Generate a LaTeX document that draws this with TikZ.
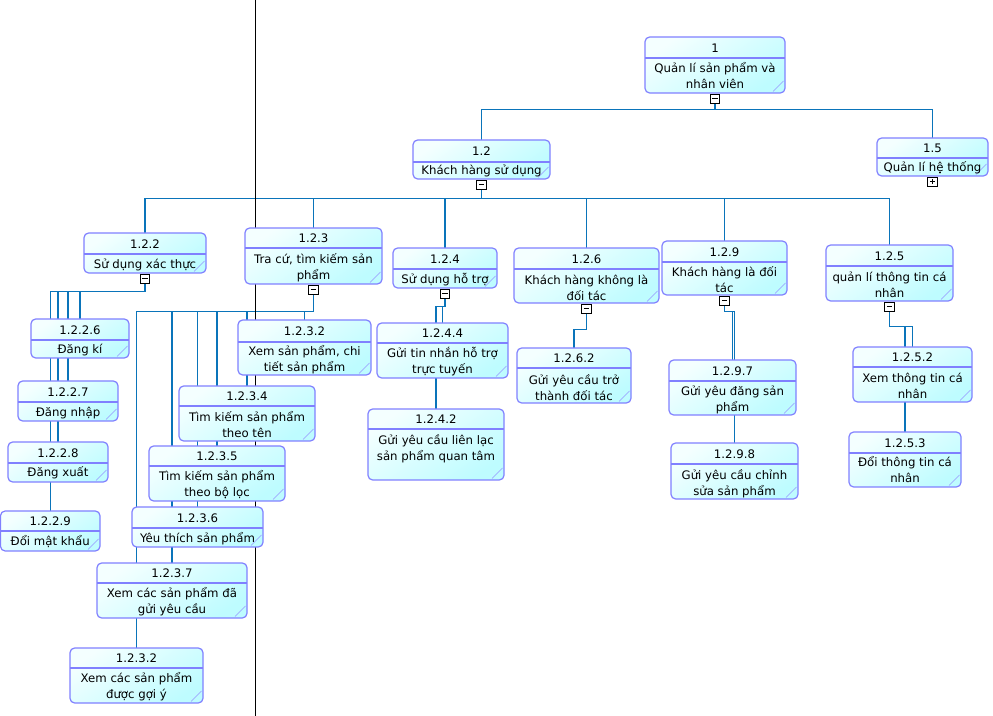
\documentclass[tikz,border=0pt]{standalone}
\usepackage{fontspec}
\setmainfont{DejaVu Sans}
\definecolor{boxborder}{RGB}{128,128,255}
\definecolor{boxtop}{RGB}{244,255,255}
\definecolor{boxbot}{RGB}{190,252,255}
\definecolor{connblue}{RGB}{10,116,186}
\definecolor{foldc}{RGB}{150,150,255}
\pgfdeclarelayer{bg}
\pgfdeclarelayer{mid}
\pgfsetlayers{bg,mid,main}
\tikzset{
  pnode/.style={draw=boxborder, line width=0.9pt, rounded corners=3.5pt,
    top color=boxtop, bottom color=boxbot, shading angle=35,
    inner sep=0pt, outer sep=0pt},
  psep/.style={draw=boxborder, line width=0.9pt},
  pfold/.style={draw=foldc, line width=0.5pt},
  ptext/.style={inner sep=0pt, align=center, text=black,
    font=\fontsize{8.8}{12}\selectfont},
  conn/.style={draw=connblue, line width=0.9pt},
  pageline/.style={draw=black, line width=0.8pt},
  togbase/.style={draw=black, fill=white, line width=0.7pt, minimum size=7pt,
    inner sep=0pt, outer sep=0pt, anchor=north},
  togminus/.style={togbase, path picture={\draw[line width=0.7pt]
    ([xshift=1.6pt]path picture bounding box.west) --
    ([xshift=-1.6pt]path picture bounding box.east);}},
  togplus/.style={togbase, path picture={\draw[line width=0.7pt]
    ([xshift=1.6pt]path picture bounding box.west) --
    ([xshift=-1.6pt]path picture bounding box.east)
    ([yshift=-1.6pt]path picture bounding box.north) --
    ([yshift=1.6pt]path picture bounding box.south);}},
}
% #1 name, #2 x1, #3 y1, #4 x2, #5 y2, #6 y of header line, #7 y of text, #8 number, #9 text
\newcommand\procbox[9]{%
  \node[pnode, minimum width={(#4-#2)*0.75pt}, minimum height={(#5-#3)*0.75pt}]
    (#1) at ({(#2+#4)/2},{(#3+#5)/2}) {};
  \draw[psep] (#2,#6) -- (#4,#6);
  \draw[pfold] (#4-12,#5-1.5) -- (#4-1.5,#5-12);
  \node[ptext] at ({(#2+#4)/2},{(#3+#6)/2+0.5}) {#8};
  \node[ptext] at ({(#2+#4)/2},#7) {#9};
}
\begin{document}
\begin{tikzpicture}[x=0.75pt,y=-0.75pt]
\useasboundingbox (0,0) rectangle (993,716);

% level 0 / 1
\procbox{n1}{645}{37}{785}{93}{58}{76}{1}{Quản lí sản phẩm và\\nhân viên}
\procbox{n12}{413}{140}{550}{179}{162}{171}{1.2}{Khách hàng sử dụng}
\procbox{n15}{877}{138}{988}{176}{158}{168}{1.5}{Quản lí hệ thống}

% level 2
\procbox{n122}{84}{233}{206}{273}{254}{265}{1.2.2}{Sử dụng xác thực}
\procbox{n123}{245}{228}{382}{284}{248}{268}{1.2.3}{Tra cứ, tìm kiếm sản\\phẩm}
\procbox{n124}{393}{248}{497}{288}{269}{280}{1.2.4}{Sử dụng hỗ trợ}
\procbox{n126}{514}{248}{659}{303}{269}{287.5}{1.2.6}{Khách hàng không là\\đối tác}
\procbox{n129}{662}{241}{787}{295}{262}{279.5}{1.2.9}{Khách hàng là đối\\tác}
\procbox{n125}{826}{245}{953}{301}{266}{284.5}{1.2.5}{quản lí thông tin cá\\nhân}

% children of 1.2.2
\procbox{n1226}{31}{319}{129}{358}{340}{350}{1.2.2.6}{Đăng kí}
\procbox{n1227}{18}{381}{118}{421}{402}{413}{1.2.2.7}{Đăng nhập}
\procbox{n1228}{8}{442}{108}{482}{463}{473}{1.2.2.8}{Đăng xuất}
\procbox{n1229}{0.5}{511}{100}{551}{531}{542}{1.2.2.9}{Đổi mật khẩu}

% children of 1.2.3
\procbox{n1232a}{238}{320}{371}{375}{342}{360}{1.2.3.2}{Xem sản phẩm, chi\\tiết sản phẩm}
\procbox{n1234}{179}{386}{315}{441}{406}{425}{1.2.3.4}{Tìm kiếm sản phẩm\\theo tên}
\procbox{n1235}{149}{446}{285}{501}{466}{485}{1.2.3.5}{Tìm kiếm sản phẩm\\theo bộ lọc}
\procbox{n1236}{132}{507}{263}{547}{528}{539}{1.2.3.6}{Yêu thích sản phẩm}
\procbox{n1237}{97}{563}{247}{618}{583}{602}{1.2.3.7}{Xem các sản phẩm đã\\gửi yêu cầu}
\procbox{n1232b}{70}{648}{203}{703}{668}{687}{1.2.3.2}{Xem các sản phẩm\\được gợi ý}

% children of 1.2.4
\procbox{n1244}{377}{323}{508}{378}{343}{362}{1.2.4.4}{Gửi tin nhắn hỗ trợ\\trực tuyến}
\procbox{n1242}{368}{409}{504}{480}{429}{448.5}{1.2.4.2}{Gửi yêu cầu liên lạc\\sản phẩm quan tâm}

% children of 1.2.6, 1.2.9, 1.2.5
\procbox{n1262}{517}{348}{631}{403}{368}{387.5}{1.2.6.2}{Gửi yêu cầu trở\\thành đối tác}
\procbox{n1297}{669}{360}{796}{415}{381}{400}{1.2.9.7}{Gửi yêu đăng sản\\phẩm}
\procbox{n1298}{671}{443}{798}{499}{464}{484}{1.2.9.8}{Gửi yêu cầu chỉnh\\sửa sản phẩm}
\procbox{n1252}{853}{347}{972}{402}{367}{386}{1.2.5.2}{Xem thông tin cá\\nhân}
\procbox{n1253}{849}{432}{961}{487}{453}{470}{1.2.5.3}{Đổi thông tin cá\\nhân}

% toggles
\node[togminus] (m1)   at ([yshift=-0.75pt]n1.south) {};
\node[togminus] (m12)  at ([yshift=-0.75pt]n12.south) {};
\node[togplus]  (m15)  at ([yshift=-0.75pt]n15.south) {};
\node[togminus] (m122) at ([yshift=-0.75pt]n122.south) {};
\node[togminus] (m123) at ([yshift=-0.75pt]n123.south) {};
\node[togminus] (m124) at ([yshift=-0.75pt]n124.south) {};
\node[togminus] (m126) at ([yshift=-0.75pt]n126.south) {};
\node[togminus] (m129) at ([yshift=-0.75pt]n129.south) {};
\node[togminus] (m125) at ([yshift=-0.75pt]n125.south) {};

% junctions
\path (m1.south)   ++(0,6)    coordinate (j1);
\path (m12.south)  ++(0,9.5)  coordinate (j12);
\path (m122.south) ++(0,8.5)  coordinate (j122);
\path (m123.south) ++(0,17)   coordinate (j123);
\path (m124.south) ++(0,8.5)  coordinate (j124);
\path (m126.south) ++(0,16.5) coordinate (j126);
\path (m129.south) ++(0,6.5)  coordinate (j129);
\path (m125.south) ++(0,15.5) coordinate (j125);

% page boundary line
\coordinate (pgtop) at (255.5,0);
\coordinate (pgbot) at (255.5,716);
\begin{pgfonlayer}{mid}
\draw[pageline] (pgtop) -- (pgbot);
\end{pgfonlayer}

\begin{pgfonlayer}{bg}
\draw[conn] (m1.south) -- (j1);
\foreach \c in {n12,n15} \draw[conn] (j1) -| (\c.north);
\draw[conn] (m12.south) -- (j12);
\foreach \c in {n122,n123,n124,n126,n129,n125} \draw[conn] (j12) -| (\c.north);
\draw[conn] (m122.south) -- (j122);
\foreach \c in {n1226,n1227,n1228,n1229} \draw[conn] (j122) -| (\c.north);
\draw[conn] (m123.south) -- (j123);
\foreach \c in {n1232a,n1234,n1235,n1236,n1237,n1232b} \draw[conn] (j123) -| (\c.north);
\draw[conn] (m124.south) -- (j124);
\foreach \c in {n1244,n1242} \draw[conn] (j124) -| (\c.north);
\draw[conn] (m126.south) -- (j126) -| (n1262.north);
\draw[conn] (m129.south) -- (j129);
\foreach \c in {n1297,n1298} \draw[conn] (j129) -| (\c.north);
\draw[conn] (m125.south) -- (j125);
\foreach \c in {n1252,n1253} \draw[conn] (j125) -| (\c.north);
\end{pgfonlayer}
\end{tikzpicture}
\end{document}
